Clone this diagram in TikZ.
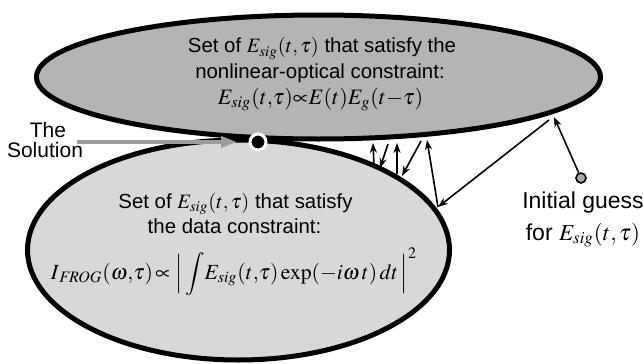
\documentclass[tikz,border=0pt]{standalone}
\usepackage{mathptmx}
\usepackage[no-math]{fontspec}
\setmainfont{Liberation Sans}
\usetikzlibrary{shapes.geometric, arrows.meta, positioning}
\definecolor{setdark}{HTML}{b4b4b4}
\definecolor{setlight}{HTML}{d8d8d8}
\definecolor{solgrey}{HTML}{9c9c9c}
\definecolor{guessgrey}{HTML}{a8a8a8}
\tikzset{
  setellipse/.style={ellipse, draw=black, line width=2.5pt, inner sep=0pt},
  settext/.style={anchor=base, inner sep=0pt, font=\fontsize{10.2}{12}\selectfont},
  setformula/.style={anchor=base, inner sep=0pt, font=\fontsize{11}{13}\selectfont},
  sidelabel/.style={anchor=base, inner sep=0pt, font=\fontsize{10.5}{12}\selectfont},
  guesslabel/.style={anchor=base, inner sep=0pt, font=\fontsize{11.5}{13}\selectfont},
  solpoint/.style={circle, fill=black, draw=white, line width=1.5pt,
                   minimum size=8pt, inner sep=0pt},
  guesspoint/.style={circle, fill=guessgrey, draw=black, line width=0.8pt,
                     minimum size=5pt, inner sep=0pt},
  solarrow/.style={-{Triangle[length=8pt,width=5.5pt]}, line width=1.6pt, draw=solgrey},
  iterarrow/.style={-{Stealth[length=5pt,width=3.6pt]}, line width=0.8pt, draw=black},
}
\begin{document}
\begin{tikzpicture}[x=0.5pt, y=-0.5pt]
  \useasboundingbox (0,0) rectangle (643,364);

  % --- the two constraint sets ---
  \node[setellipse, fill=setlight, minimum width=211pt, minimum height=110pt] (dataset) at (238.5,250) {};
  \node[setellipse, fill=setdark, minimum width=282pt, minimum height=62pt] (nlset) at (318.5,77) {};

  % --- texts of the upper set ---
  \node[settext] (nlline1) at (322,53) {Set of $E_{sig}(t,\tau)$ that satisfy the};
  \node[settext] (nlline2) at (320,78) {nonlinear-optical constraint:};
  \node[setformula] (nlformula) at (320.5,104)
    {$E_{sig}(t,\!\tau){\propto}E(t)E_g(t{-}\tau)$};

  % --- texts of the lower set ---
  \node[settext] (dataline1) at (235.5,208) {Set of $E_{sig}(t,\tau)$ that satisfy};
  \node[settext] (dataline2) at (234.5,233) {the data constraint:};
  \node[setformula, font=\fontsize{10.8}{13}\selectfont] (dataformula) at (234,279)
    {$I_{\,\mathit{FROG}}(\omega,\!\tau)\,{\propto}\,\left|\,\displaystyle\int\! E_{sig}(t,\!\tau)\exp({-}i\omega\,t)\,dt\,\right|^2$};

  % --- the solution ---
  \node[sidelabel] (thelabel) at (48,137) {The};
  \node[sidelabel] (sollabel) at (45,157) {Solution};
  \node[solpoint] (solution) at (258,142) {};
  \coordinate (solstart) at (77,142);
  \coordinate (solend) at (237,142);
  \draw[solarrow] (solstart) -- (solend);

  % --- initial guess ---
  \node[guesspoint] (guess) at (581,178) {};
  \node[guesslabel] (guessline1) at (583,208) {Initial guess};
  \node[guesslabel] (guessline2) at (583,240) {for $E_{sig}(t,\tau)$};

  % --- iterations between the sets ---
  \coordinate (hit1) at (554,117);
  \coordinate (hit2) at (549,120);
  \coordinate (hit3) at (438,207);
  \coordinate (hit4) at (427,140);
  \coordinate (hit5) at (421,141);
  \coordinate (hit6) at (402,176);
  \coordinate (hit7) at (397,174);
  \coordinate (hit8) at (397,143);
  \coordinate (hit9) at (388,144);
  \coordinate (hit10) at (380,168);
  \coordinate (hit11) at (374,165);
  \coordinate (hit12) at (373,143);
  \draw[iterarrow] (guess) -- (hit1);
  \draw[iterarrow] (hit2) -- (hit3);
  \draw[iterarrow] (hit3) -- (hit4);
  \draw[iterarrow] (hit5) -- (hit6);
  \draw[iterarrow] (hit7) -- (hit8);
  \draw[iterarrow] (hit9) -- (hit10);
  \draw[iterarrow] (hit11) -- (hit12);
\end{tikzpicture}
\end{document}
